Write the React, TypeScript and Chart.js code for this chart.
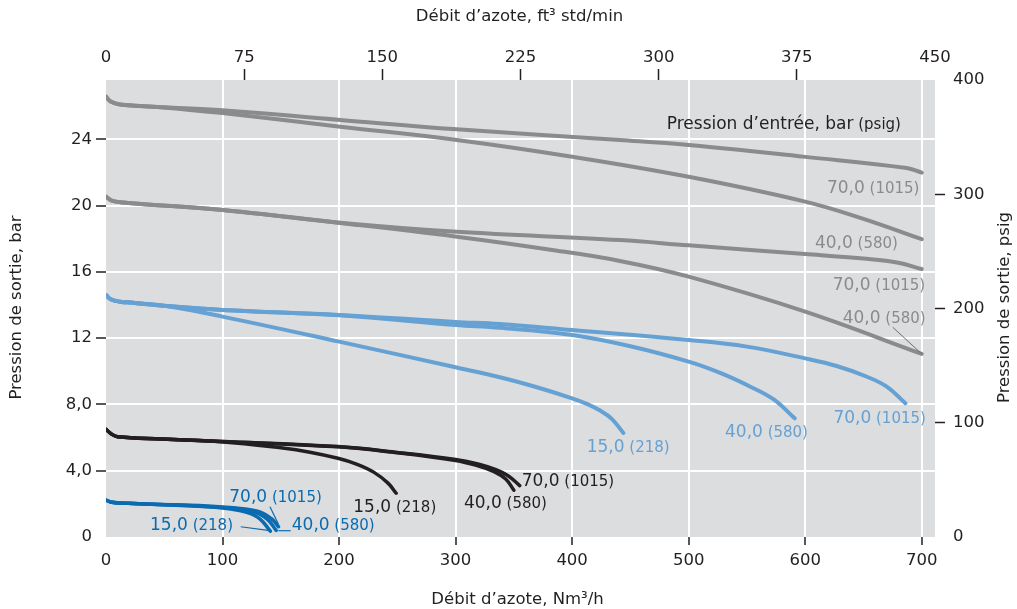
import React, { useEffect, useRef } from 'react';
import { Chart, registerables } from 'chart.js';

Chart.register(...registerables);

type Pt = [number, number];

// ---- axes ----
const flowTicksNm3h = [0, 100, 200, 300, 400, 500, 600, 700];
const flowTicksScfm = [0, 75, 150, 225, 300, 375, 450];
const outletTicksBar = [0, 4, 8, 12, 16, 20, 24];
const outletTicksPsig = [0, 100, 200, 300, 400];

const FLOW_MAX_NM3H = 711.4;
const FLOW_MAX_SCFM = 450;
const PSIG_MAX = 400;
const PSIG_PER_BAR = 14.5038;
const OUTLET_MAX_BAR = PSIG_MAX / PSIG_PER_BAR;

// ---- curves: [flow Nm3/h, outlet pressure bar] ----
const grey26In70: Pt[] = [[0, 26.57], [4, 26.28], [12, 26.1], [44, 25.95], [100, 25.76], [201, 25.17], [301, 24.6], [441, 23.96], [500, 23.66], [600, 22.94], [687, 22.27], [700, 21.99]];
const grey26In40: Pt[] = [[0, 26.57], [4, 26.28], [12, 26.1], [44, 25.95], [100, 25.58], [201, 24.76], [301, 23.96], [400, 22.95], [500, 21.74], [600, 20.24], [650, 19.2], [700, 17.97]];
const grey20In70: Pt[] = [[0, 20.54], [5, 20.3], [15, 20.18], [30, 20.1], [100, 19.73], [201, 18.97], [301, 18.42], [441, 17.92], [500, 17.6], [600, 17.08], [650, 16.8], [680, 16.55], [700, 16.17]];
const grey20In40: Pt[] = [[0, 20.54], [5, 20.3], [15, 20.18], [30, 20.1], [100, 19.73], [201, 18.95], [301, 18.12], [380, 17.35], [441, 16.66], [500, 15.71], [600, 13.6], [700, 11.05]];

const light14In70: Pt[] = [[0, 14.6], [4, 14.35], [12, 14.2], [23, 14.14], [52, 13.94], [100, 13.7], [200, 13.4], [300, 12.98], [338, 12.85], [400, 12.49], [500, 11.89], [550, 11.49], [600, 10.78], [627, 10.32], [653, 9.67], [670, 9.07], [686, 8.07]];
const light14In40: Pt[] = [[0, 14.6], [4, 14.35], [12, 14.2], [23, 14.14], [52, 13.94], [100, 13.7], [200, 13.38], [300, 12.8], [338, 12.63], [400, 12.19], [450, 11.51], [500, 10.58], [527, 9.9], [553, 9.07], [573, 8.3], [591, 7.16]];
const light14In15: Pt[] = [[0, 14.6], [4, 14.35], [12, 14.2], [23, 14.14], [52, 13.94], [100, 13.3], [200, 11.79], [300, 10.24], [338, 9.64], [369, 9.05], [400, 8.37], [412, 8.05], [424, 7.63], [434, 7.13], [444, 6.28]];

const black6In70: Pt[] = [[0, 6.5], [4, 6.25], [10, 6.05], [48, 5.91], [99, 5.77], [199, 5.46], [248, 5.12], [300, 4.68], [320, 4.4], [334, 4.08], [345, 3.7], [355, 3.1]];
const black6In40: Pt[] = [[0, 6.5], [4, 6.25], [10, 6.05], [48, 5.91], [99, 5.77], [199, 5.44], [248, 5.1], [300, 4.62], [319, 4.3], [333, 3.95], [343, 3.5], [350, 2.82]];
const black6In15: Pt[] = [[0, 6.5], [4, 6.25], [10, 6.05], [48, 5.91], [99, 5.75], [150, 5.38], [175, 5.12], [199, 4.75], [215, 4.4], [230, 3.9], [242, 3.25], [249, 2.64]];

const dark2In70: Pt[] = [[0, 2.23], [5, 2.1], [19, 2.03], [60, 1.94], [100, 1.81], [130, 1.55], [142, 1.1], [148, 0.62]];
const dark2In40: Pt[] = [[0, 2.23], [5, 2.1], [19, 2.03], [60, 1.93], [100, 1.78], [125, 1.55], [138, 1.1], [146, 0.4]];
const dark2In15: Pt[] = [[0, 2.23], [5, 2.1], [19, 2.03], [60, 1.92], [100, 1.75], [120, 1.5], [132, 1.1], [141, 0.35]];

const COLORS = {
  grey: '#8a8b8d',
  light: '#66a1d3',
  black: '#231f20',
  dark: '#0b6bb0',
  text: '#231f20',
  bg: '#dcdddf',
  grid: '#ffffff',
};

const FONT = 'DejaVu Sans';

const seriesList = [
  { name: '70,0 (1015)', data: grey26In70, color: COLORS.grey, width: 4 },
  { name: '40,0 (580)', data: grey26In40, color: COLORS.grey, width: 4 },
  { name: '70,0 (1015)', data: grey20In70, color: COLORS.grey, width: 4 },
  { name: '40,0 (580)', data: grey20In40, color: COLORS.grey, width: 4 },
  { name: '70,0 (1015)', data: light14In70, color: COLORS.light, width: 4 },
  { name: '40,0 (580)', data: light14In40, color: COLORS.light, width: 4 },
  { name: '15,0 (218)', data: light14In15, color: COLORS.light, width: 4 },
  { name: '70,0 (1015)', data: black6In70, color: COLORS.black, width: 3.5 },
  { name: '40,0 (580)', data: black6In40, color: COLORS.black, width: 3.5 },
  { name: '15,0 (218)', data: black6In15, color: COLORS.black, width: 3.5 },
  { name: '70,0 (1015)', data: dark2In70, color: COLORS.dark, width: 3.5 },
  { name: '40,0 (580)', data: dark2In40, color: COLORS.dark, width: 3.5 },
  { name: '15,0 (218)', data: dark2In15, color: COLORS.dark, width: 3.5 },
];

// curve labels: inlet bar + (psig), anchored at left/baseline in data units
const curveLabels = [
  { bar: '70,0', psig: '(1015)', x: 618.7, y: 20.74, color: COLORS.grey },
  { bar: '40,0', psig: '(580)', x: 608.4, y: 17.42, color: COLORS.grey },
  { bar: '70,0', psig: '(1015)', x: 623.6, y: 14.91, color: COLORS.grey },
  { bar: '40,0', psig: '(580)', x: 632.2, y: 12.93, color: COLORS.grey },
  { bar: '70,0', psig: '(1015)', x: 624.2, y: 6.86, color: COLORS.light },
  { bar: '40,0', psig: '(580)', x: 531.2, y: 6.02, color: COLORS.light },
  { bar: '15,0', psig: '(218)', x: 412.5, y: 5.15, color: COLORS.light },
  { bar: '70,0', psig: '(1015)', x: 356.7, y: 3.08, color: COLORS.black },
  { bar: '40,0', psig: '(580)', x: 307.2, y: 1.73, color: COLORS.black },
  { bar: '15,0', psig: '(218)', x: 212.2, y: 1.53, color: COLORS.black },
  { bar: '70,0', psig: '(1015)', x: 105.8, y: 2.13, color: COLORS.dark },
  { bar: '15,0', psig: '(218)', x: 37.8, y: 0.42, color: COLORS.dark },
  { bar: '40,0', psig: '(580)', x: 159.4, y: 0.42, color: COLORS.dark },
];

const leaderLines = [
  { from: [675.1, 12.66], to: [700, 11.05], color: '#6d6e70', width: 1 },
  { from: [140.7, 1.83], to: [147.9, 0.78], color: COLORS.dark, width: 1.2 },
  { from: [115.6, 0.62], to: [140.7, 0.38], color: COLORS.dark, width: 1.2 },
  { from: [147.9, 0.38], to: [158.5, 0.38], color: COLORS.dark, width: 1.2 },
];

const inletTitle = { main: 'Pression d’entrée, bar', sub: '(psig)', x: 481.2, y: 24.64 };

const titles = {
  top: 'Débit d’azote, ft³ std/min',
  bottom: 'Débit d’azote, Nm³/h',
  left: 'Pression de sortie, bar',
  right: 'Pression de sortie, psig',
};

const barLabel = (v: number) => (v === 0 ? '0' : v < 10 ? v.toFixed(1).replace('.', ',') : String(v));

function drawPair(ctx: CanvasRenderingContext2D, px: number, py: number, main: string, sub: string, color: string, mainSize: number, subSize: number) {
  ctx.fillStyle = color;
  ctx.textAlign = 'left';
  ctx.textBaseline = 'alphabetic';
  ctx.font = `${mainSize}px "${FONT}"`;
  ctx.fillText(main, px, py);
  const w = ctx.measureText(main).width;
  ctx.font = `${subSize}px "${FONT}"`;
  ctx.fillText(' ' + sub, px + w, py);
}

const decorPlugin = {
  id: 'decor',
  beforeDraw(chart: any) {
    const { ctx, chartArea } = chart;
    ctx.save();
    ctx.fillStyle = COLORS.bg;
    ctx.fillRect(chartArea.left, chartArea.top, chartArea.right - chartArea.left, chartArea.bottom - chartArea.top);
    ctx.restore();
  },
  afterDatasetsDraw(chart: any) {
    const { ctx } = chart;
    const xs = chart.scales.x;
    const ys = chart.scales.y;
    ctx.save();
    leaderLines.forEach((l) => {
      ctx.strokeStyle = l.color;
      ctx.lineWidth = l.width;
      ctx.beginPath();
      ctx.moveTo(xs.getPixelForValue(l.from[0]), ys.getPixelForValue(l.from[1]));
      ctx.lineTo(xs.getPixelForValue(l.to[0]), ys.getPixelForValue(l.to[1]));
      ctx.stroke();
    });
    curveLabels.forEach((l) => {
      drawPair(ctx, xs.getPixelForValue(l.x), ys.getPixelForValue(l.y), l.bar, l.psig, l.color, 17, 15);
    });
    drawPair(ctx, xs.getPixelForValue(inletTitle.x), ys.getPixelForValue(inletTitle.y), inletTitle.main, inletTitle.sub, COLORS.text, 17, 15);
    ctx.restore();
  },
  afterDraw(chart: any) {
    const { ctx, chartArea } = chart;
    const cx = (chartArea.left + chartArea.right) / 2;
    const cy = (chartArea.top + chartArea.bottom) / 2;
    ctx.save();
    ctx.fillStyle = COLORS.text;
    ctx.font = `16.5px "${FONT}"`;
    ctx.textAlign = 'center';
    ctx.textBaseline = 'middle';
    ctx.fillText(titles.top, cx - 1, 17);
    ctx.fillText(titles.bottom, cx - 3, 600);
    ctx.save();
    ctx.translate(17, cy - 1);
    ctx.rotate(-Math.PI / 2);
    ctx.fillText(titles.left, 0, 0);
    ctx.restore();
    ctx.save();
    ctx.translate(1005, cy - 1);
    ctx.rotate(-Math.PI / 2);
    ctx.fillText(titles.right, 0, 0);
    ctx.restore();
    ctx.restore();
  },
};

const tickFont = { family: FONT, size: 16.5 };

export default function App() {
  const ref = useRef<HTMLCanvasElement | null>(null);
  useEffect(() => {
    if (!ref.current) return;
    Chart.defaults.font.family = FONT;
    const chart = new Chart(ref.current, {
      type: 'line',
      data: {
        datasets: seriesList.map((s) => ({
          label: s.name,
          data: s.data.map(([x, y]) => ({ x, y })),
          borderColor: s.color,
          backgroundColor: s.color,
          borderWidth: s.width,
          borderCapStyle: 'round',
          borderJoinStyle: 'round',
          pointRadius: 0,
          pointHoverRadius: 0,
          fill: false,
          tension: 0.4,
          xAxisID: 'x',
          yAxisID: 'y',
        })),
      },
      options: {
        responsive: false,
        animation: false,
        events: [],
        layout: { padding: 0 },
        plugins: { legend: { display: false }, tooltip: { enabled: false }, title: { display: false } },
        scales: {
          x: {
            type: 'linear',
            position: 'bottom',
            min: 0,
            max: FLOW_MAX_NM3H,
            afterBuildTicks: (s: any) => { s.ticks = flowTicksNm3h.map((v) => ({ value: v })); },
            afterFit: (s: any) => { s.height = 72; },
            ticks: { font: tickFont, color: COLORS.text, padding: 6, maxRotation: 0, autoSkip: false, callback: (v: any) => String(v) },
            grid: {
              color: (c: any) => (c.tick && c.tick.value === 0 ? 'rgba(0,0,0,0)' : COLORS.grid),
              lineWidth: 2,
              tickLength: 8,
              tickWidth: 1.5,
              tickColor: (c: any) => (c.tick && c.tick.value === 0 ? 'rgba(0,0,0,0)' : COLORS.text),
            },
            border: { display: false },
          },
          x2: {
            type: 'linear',
            position: 'top',
            min: 0,
            max: FLOW_MAX_SCFM,
            afterBuildTicks: (s: any) => { s.ticks = flowTicksScfm.map((v) => ({ value: v })); },
            afterFit: (s: any) => { s.height = 80; },
            ticks: { font: tickFont, color: COLORS.text, padding: 1, maxRotation: 0, autoSkip: false, callback: (v: any) => String(v) },
            grid: {
              drawOnChartArea: false,
              tickLength: 11,
              tickWidth: 1.5,
              tickColor: (c: any) => (c.tick && (c.tick.value === 0 || c.tick.value === FLOW_MAX_SCFM) ? 'rgba(0,0,0,0)' : COLORS.text),
            },
            border: { display: false },
          },
          y: {
            type: 'linear',
            position: 'left',
            min: 0,
            max: OUTLET_MAX_BAR,
            afterBuildTicks: (s: any) => { s.ticks = outletTicksBar.map((v) => ({ value: v })); },
            afterFit: (s: any) => { s.width = 106; },
            ticks: { font: tickFont, color: COLORS.text, padding: 4, autoSkip: false, callback: (v: any) => barLabel(Number(v)) },
            grid: {
              color: (c: any) => (c.tick && c.tick.value === 0 ? 'rgba(0,0,0,0)' : COLORS.grid),
              lineWidth: 2,
              tickLength: 10,
              tickWidth: 1.5,
              tickColor: (c: any) => (c.tick && c.tick.value === 0 ? 'rgba(0,0,0,0)' : COLORS.text),
            },
            border: { display: false },
          },
          y2: {
            type: 'linear',
            position: 'right',
            min: 0,
            max: PSIG_MAX,
            afterBuildTicks: (s: any) => { s.ticks = outletTicksPsig.map((v) => ({ value: v })); },
            afterFit: (s: any) => { s.width = 82; },
            ticks: { font: tickFont, color: COLORS.text, padding: 8, autoSkip: false, callback: (v: any) => String(v) },
            grid: {
              drawOnChartArea: false,
              tickLength: 10,
              tickWidth: 1.5,
              tickColor: (c: any) => (c.tick && (c.tick.value === 0 || c.tick.value === PSIG_MAX) ? 'rgba(0,0,0,0)' : COLORS.text),
            },
            border: { display: false },
          },
        },
      } as any,
      plugins: [decorPlugin],
    });
    return () => chart.destroy();
  }, []);
  return (
    <div style={{ position: 'absolute', left: 0, top: 0, width: 1017, height: 609, background: '#ffffff' }}>
      <canvas ref={ref} width={1017} height={609} style={{ display: 'block' }} />
    </div>
  );
}
